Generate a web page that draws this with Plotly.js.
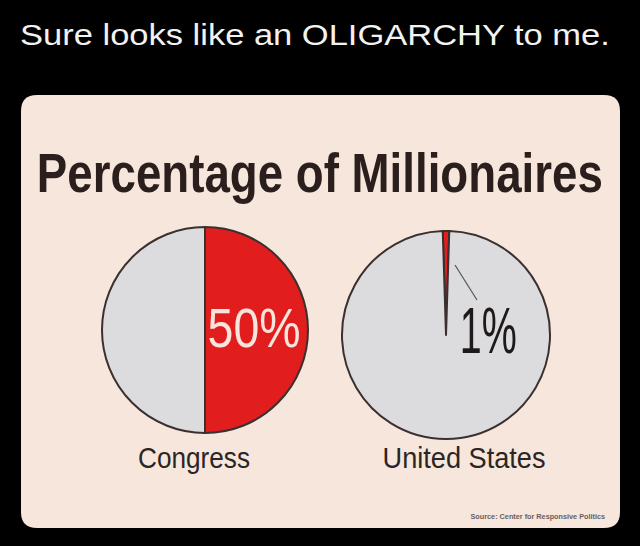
<!DOCTYPE html>
<html><head><meta charset="utf-8">
<script src="https://cdn.plot.ly/plotly-3.0.1.min.js"></script>
<style>html,body{margin:0;padding:0;background:#000;}#chart{width:640px;height:546px;}</style>
</head><body><div id="chart"></div>
<script>
const groups = ["Congress", "United States"];
const millionairePct = [50, 1];
const sliceLabels = ["Millionaires", "Others"];
const pctLabels = ["50%", "1%"];
const headline = "Sure looks like an OLIGARCHY to me.";
const chartTitle = "Percentage of Millionaires";
const sourceNote = "Source: Center for Responsive Politics";

const W = 640, H = 546;
const px = x => x / W, py = y => 1 - y / H;
const SANS = "Liberation Sans, Arial, sans-serif";

const domains = [
  {x: [px(102), px(308)], y: [py(433), py(227)]},
  {x: [px(342), px(550)], y: [py(439), py(231)]}
];
const rotations = [0, -1.8];

const traces = groups.map((g, i) => ({
  type: "pie",
  labels: sliceLabels,
  values: [millionairePct[i], 100 - millionairePct[i]],
  sort: false,
  direction: "clockwise",
  rotation: rotations[i],
  textinfo: "none",
  hoverinfo: "label+percent",
  marker: {colors: ["#e11d1d", "#dcdcde"], line: {color: "#3a3030", width: 2}},
  domain: domains[i],
  showlegend: false
}));

// rounded card
const x0 = px(21), x1 = px(620), yT = py(95), yB = py(528);
const rx = 16 / W, ry = 16 / H;
const card = `M ${x0 + rx} ${yT} L ${x1 - rx} ${yT} Q ${x1} ${yT} ${x1} ${yT - ry} L ${x1} ${yB + ry} Q ${x1} ${yB} ${x1 - rx} ${yB} L ${x0 + rx} ${yB} Q ${x0} ${yB} ${x0} ${yB + ry} L ${x0} ${yT - ry} Q ${x0} ${yT} ${x0 + rx} ${yT} Z`;

// [text, centerX, capCenterY, fontSize, color, bold, targetWidth]
const textSpecs = [
  [headline, 315, 35, 29, "#f2f2f2", false, 590],
  [chartTitle, 320, 173, 55, "#2b1f1d", true, 566],
  [pctLabels[0], 253.5, 327, 56, "#f7e4dc", false, 93],
  [pctLabels[1], 488.5, 331, 64, "#1e1a1a", false, 57],
  [groups[0], 194, 457.5, 29, "#2b2523", false, 112],
  [groups[1], 463.5, 457.5, 29, "#2b2523", false, 163],
  [sourceNote, 537.5, 517, 7, "#6a6060", true, 135]
];

const layout = {
  width: W, height: H,
  margin: {l: 0, r: 0, t: 0, b: 0},
  paper_bgcolor: "#000000",
  plot_bgcolor: "#000000",
  shapes: [
    {type: "path", xref: "paper", yref: "paper", path: card, fillcolor: "#f6e6dc", line: {width: 0}, layer: "below"},
    {type: "line", xref: "paper", yref: "paper", x0: px(455), y0: py(265), x1: px(477), y1: py(300), line: {color: "#555", width: 1.2}}
  ],
  annotations: textSpecs.map(s => ({
    text: s[0], xref: "paper", yref: "paper", x: px(s[1]), y: py(s[2]),
    xanchor: "center", yanchor: "middle", showarrow: false,
    font: {family: SANS, size: s[3], color: s[4], weight: s[5] ? 700 : 400}
  }))
};

Plotly.newPlot("chart", traces, layout, {staticPlot: true, displayModeBar: false}).then(() => {
  document.querySelectorAll("#chart g.annotation").forEach(g => {
    const idx = +g.getAttribute("data-index");
    const t = g.querySelector("text.annotation-text");
    if (!t || !textSpecs[idx]) return;
    const holder = t.parentNode;
    const bb = holder.getBBox();
    const cx = bb.x + bb.width / 2;
    const s = textSpecs[idx][6] / t.getBBox().width;
    const prev = holder.getAttribute("transform") || "";
    holder.setAttribute("transform", `${prev} translate(${cx} 0) scale(${s} 1) translate(${-cx} 0)`);
  });
});
</script>
</body></html>
